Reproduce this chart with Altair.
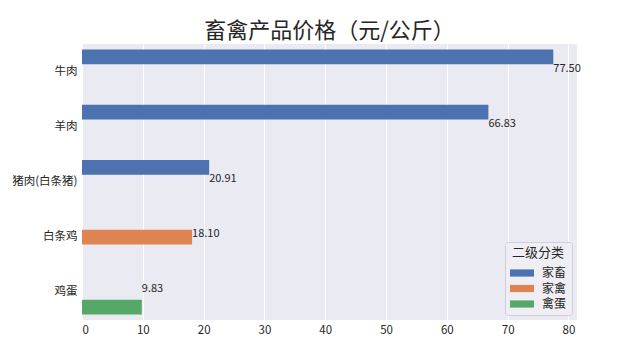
import altair as alt
import pandas as pd

categories = ["牛肉", "羊肉", "猪肉(白条猪)", "白条鸡", "鸡蛋"]
values = [77.50, 66.83, 20.91, 18.10, 9.83]
groups = ["家畜", "家畜", "家畜", "家禽", "禽蛋"]
group_order = ["家畜", "家禽", "禽蛋"]
group_colors = ["#4C72B0", "#DD8452", "#55A868"]
x_ticks = [0, 10, 20, 30, 40, 50, 60, 70, 80]

df = pd.DataFrame({
    "品种": categories,
    "价格": values,
    "二级分类": groups,
    "标签": [f"{v:.2f}" for v in values],
})

FONT = "Noto Sans CJK SC"

y_enc = alt.Y("品种:N", sort=categories, title=None,
              scale=alt.Scale(paddingInner=0.2, paddingOuter=0.1),
              axis=alt.Axis(labelFontSize=11.5, labelColor="#262626", labelFont=FONT,
                            ticks=False, domain=False, grid=False, labelPadding=5))
x_enc = alt.X("价格:Q", title=None,
              scale=alt.Scale(domain=[0, 81.4], nice=False),
              axis=alt.Axis(values=x_ticks, labelFontSize=11.5, labelColor="#262626",
                            labelFont=FONT, ticks=False, domain=False, grid=True,
                            gridColor="white", gridWidth=1, labelPadding=4))

bars = alt.Chart(df).mark_bar().encode(
    x=x_enc,
    y=y_enc,
    yOffset=alt.YOffset("二级分类:N", scale=alt.Scale(domain=group_order, paddingInner=0, paddingOuter=0)),
    color=alt.Color("二级分类:N", scale=alt.Scale(domain=group_order, range=group_colors),
                    legend=alt.Legend(
                        title="二级分类", orient="bottom-right", offset=5,
                        titleFontSize=13, titleFontWeight="normal", titleColor="#262626",
                        titleFont=FONT, titleAnchor="middle", titleAlign="center",
                        labelFontSize=12, labelColor="#262626", labelFont=FONT,
                        symbolType="M-1.5,-0.45L1.5,-0.45L1.5,0.45L-1.5,0.45Z",
                        symbolSize=256, symbolStrokeWidth=0, symbolOffset=4,
                        labelOffset=12, rowPadding=1.5, padding=5,
                        fillColor="#EEEEF4", strokeColor="#D0D0D8", cornerRadius=3)),
)

labels = alt.Chart(df).mark_text(align="left", baseline="alphabetic", fontSize=11,
                                 font=FONT, color="#262626").encode(
    x="价格:Q",
    y=alt.Y("品种:N", sort=categories),
    text="标签:N",
)

chart = alt.layer(bars, labels).properties(
    width=495, height=276,
    title=alt.TitleParams("畜禽产品价格（元/公斤）", fontSize=22, font=FONT,
                          fontWeight="normal", color="#262626", offset=1),
    autosize="none",
    padding={"left": 74, "top": 36, "right": 50, "bottom": 30},
).configure(background="white").configure_view(fill="#EAEAF2", strokeWidth=0)

chart.save("out.html", embed_options={"renderer": "svg", "actions": False})
